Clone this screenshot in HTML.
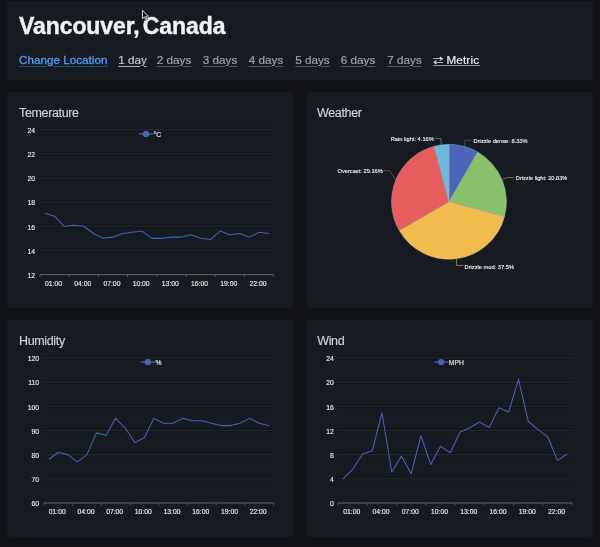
<!DOCTYPE html>
<html><head><meta charset="utf-8">
<style>
html,body{margin:0;padding:0;}
body{width:600px;height:547px;background:#121319;position:relative;overflow:hidden;font-family:"Liberation Sans",Arial,Helvetica,sans-serif;}
.card{position:absolute;background:#161a21;border-radius:3px;}
.hdr{left:7px;top:0;width:585.75px;height:80px;box-sizing:border-box;border-top:1px solid #0f1219;border-top-left-radius:0;border-top-right-radius:0;}
h1{position:absolute;left:19px;top:13px;margin:0;font-size:23px;line-height:27px;font-weight:bold;color:#f0f2f4;-webkit-text-stroke:0.4px #f0f2f4;white-space:nowrap;word-spacing:-3.2px;letter-spacing:-0.08px;}
.n{position:absolute;top:52.5px;font-size:11.7px;line-height:14px;white-space:nowrap;color:#9ba1a8;text-decoration:underline;text-decoration-color:#55595f;text-underline-offset:2px;text-decoration-thickness:1px;-webkit-text-stroke:0.2px currentColor;}
.n.loc{color:#4f9ef8;text-decoration-color:#2a4a78;-webkit-text-stroke:0.3px #4f9ef8;}
.n.cur{color:#c3c7cc;text-decoration-color:#a8acb2;}
.n.met{color:#e8ebee;text-decoration:none;}
.arr{font-family:"Noto Sans CJK JP",sans-serif;font-size:6.4px;display:inline-block;width:10.4px;font-weight:normal;transform:translateY(-1.4px) scale(1.6,1);transform-origin:0 50%;}
.ul{position:absolute;left:433px;top:65.4px;width:46.5px;height:1px;background:#8e939a;}
.mt{letter-spacing:0.15px;}
.ttl{position:absolute;font-size:12.5px;line-height:15px;letter-spacing:-0.35px;color:#ced2d8;-webkit-text-stroke:0.15px #ced2d8;white-space:nowrap;}
svg{position:absolute;left:0;top:0;}
.al{font-size:6.8px;fill:#e8e8e8;stroke:#e8e8e8;stroke-width:0.15px;font-family:"Liberation Sans",Arial,sans-serif;}
.pl{font-size:6.2px;fill:#f4f4f4;stroke:#f4f4f4;stroke-width:0.12px;font-family:"Liberation Sans",Arial,sans-serif;}
</style></head><body>
<div class="card hdr"></div>
<h1>Vancouver, Canada</h1>
<a class="n loc" style="left:19px">Change Location</a>
<a class="n cur" style="left:118.3px">1 day</a>
<a class="n " style="left:156.8px">2 days</a>
<a class="n " style="left:202.8px">3 days</a>
<a class="n " style="left:248.8px">4 days</a>
<a class="n " style="left:295.2px">5 days</a>
<a class="n " style="left:340.8px">6 days</a>
<a class="n " style="left:387.3px">7 days</a>
<a class="n met" style="left:432.8px"><span class="arr">⇄</span> <span class="mt">Metric</span></a>
<div class="ul"></div>
<div class="card" style="left:7px;top:91.7px;width:286.75px;height:216.6px"></div>
<div class="card" style="left:306px;top:91.7px;width:286.75px;height:216.6px"></div>
<div class="card" style="left:7px;top:320px;width:286.75px;height:216.7px"></div>
<div class="card" style="left:306px;top:320px;width:286.75px;height:216.7px"></div>
<div class="ttl" style="left:19px;top:106px">Temerature</div>
<div class="ttl" style="left:317px;top:106px">Weather</div>
<div class="ttl" style="left:19px;top:334px">Humidity</div>
<div class="ttl" style="left:317.2px;top:334px">Wind</div>
<svg width="600" height="547" viewBox="0 0 600 547">
<line x1="39.9" y1="128.30" x2="273.6" y2="128.30" stroke="#12161b" stroke-width="0.8"/>
<line x1="39.9" y1="130.90" x2="273.6" y2="130.90" stroke="#12161b" stroke-width="0.8"/>
<line x1="39.9" y1="129.60" x2="273.6" y2="129.60" stroke="#25282d" stroke-width="1.1"/>
<line x1="39.9" y1="152.47" x2="273.6" y2="152.47" stroke="#12161b" stroke-width="0.8"/>
<line x1="39.9" y1="155.07" x2="273.6" y2="155.07" stroke="#12161b" stroke-width="0.8"/>
<line x1="39.9" y1="153.77" x2="273.6" y2="153.77" stroke="#25282d" stroke-width="1.1"/>
<line x1="39.9" y1="176.63" x2="273.6" y2="176.63" stroke="#12161b" stroke-width="0.8"/>
<line x1="39.9" y1="179.23" x2="273.6" y2="179.23" stroke="#12161b" stroke-width="0.8"/>
<line x1="39.9" y1="177.93" x2="273.6" y2="177.93" stroke="#25282d" stroke-width="1.1"/>
<line x1="39.9" y1="200.80" x2="273.6" y2="200.80" stroke="#12161b" stroke-width="0.8"/>
<line x1="39.9" y1="203.40" x2="273.6" y2="203.40" stroke="#12161b" stroke-width="0.8"/>
<line x1="39.9" y1="202.10" x2="273.6" y2="202.10" stroke="#25282d" stroke-width="1.1"/>
<line x1="39.9" y1="224.97" x2="273.6" y2="224.97" stroke="#12161b" stroke-width="0.8"/>
<line x1="39.9" y1="227.57" x2="273.6" y2="227.57" stroke="#12161b" stroke-width="0.8"/>
<line x1="39.9" y1="226.27" x2="273.6" y2="226.27" stroke="#25282d" stroke-width="1.1"/>
<line x1="39.9" y1="249.13" x2="273.6" y2="249.13" stroke="#12161b" stroke-width="0.8"/>
<line x1="39.9" y1="251.73" x2="273.6" y2="251.73" stroke="#12161b" stroke-width="0.8"/>
<line x1="39.9" y1="250.43" x2="273.6" y2="250.43" stroke="#25282d" stroke-width="1.1"/>
<text x="35" y="132.90" text-anchor="end" class="al">24</text>
<text x="35" y="157.07" text-anchor="end" class="al">22</text>
<text x="35" y="181.23" text-anchor="end" class="al">20</text>
<text x="35" y="205.40" text-anchor="end" class="al">18</text>
<text x="35" y="229.57" text-anchor="end" class="al">16</text>
<text x="35" y="253.73" text-anchor="end" class="al">14</text>
<text x="35" y="277.90" text-anchor="end" class="al">12</text>
<line x1="39.9" y1="274.6" x2="273.6" y2="274.6" stroke="#62656f" stroke-width="1"/>
<line x1="39.90" y1="274.6" x2="39.90" y2="277.1" stroke="#62656f" stroke-width="0.8"/>
<line x1="69.11" y1="274.6" x2="69.11" y2="277.1" stroke="#62656f" stroke-width="0.8"/>
<line x1="98.33" y1="274.6" x2="98.33" y2="277.1" stroke="#62656f" stroke-width="0.8"/>
<line x1="127.54" y1="274.6" x2="127.54" y2="277.1" stroke="#62656f" stroke-width="0.8"/>
<line x1="156.75" y1="274.6" x2="156.75" y2="277.1" stroke="#62656f" stroke-width="0.8"/>
<line x1="185.96" y1="274.6" x2="185.96" y2="277.1" stroke="#62656f" stroke-width="0.8"/>
<line x1="215.18" y1="274.6" x2="215.18" y2="277.1" stroke="#62656f" stroke-width="0.8"/>
<line x1="244.39" y1="274.6" x2="244.39" y2="277.1" stroke="#62656f" stroke-width="0.8"/>
<line x1="273.60" y1="274.6" x2="273.60" y2="277.1" stroke="#62656f" stroke-width="0.8"/>
<text x="53.51" y="286.00" text-anchor="middle" class="al">01:00</text>
<text x="82.72" y="286.00" text-anchor="middle" class="al">04:00</text>
<text x="111.93" y="286.00" text-anchor="middle" class="al">07:00</text>
<text x="141.14" y="286.00" text-anchor="middle" class="al">10:00</text>
<text x="170.36" y="286.00" text-anchor="middle" class="al">13:00</text>
<text x="199.57" y="286.00" text-anchor="middle" class="al">16:00</text>
<text x="228.78" y="286.00" text-anchor="middle" class="al">19:00</text>
<text x="257.99" y="286.00" text-anchor="middle" class="al">22:00</text>
<polyline points="44.77,213.34 54.51,216.24 64.24,226.27 73.98,225.30 83.72,226.27 93.46,233.52 103.19,238.35 112.93,237.14 122.67,233.52 132.41,232.31 142.14,231.10 151.88,238.35 161.62,238.35 171.36,237.14 181.09,237.14 190.83,234.72 200.57,238.35 210.31,239.56 220.04,231.10 229.78,234.72 239.52,233.52 249.26,237.14 258.99,232.31 268.73,233.52" fill="none" stroke="#4862b6" stroke-width="1.05" stroke-linejoin="round"/>
<line x1="139.0" y1="133.9" x2="153.0" y2="133.9" stroke="#4862b6" stroke-width="1.3"/>
<circle cx="146.0" cy="133.9" r="3.2" fill="#4862b6"/>
<text x="153.6" y="136.5" class="al">°C</text>
<line x1="43.9" y1="356.60" x2="273.5" y2="356.60" stroke="#12161b" stroke-width="0.8"/>
<line x1="43.9" y1="359.20" x2="273.5" y2="359.20" stroke="#12161b" stroke-width="0.8"/>
<line x1="43.9" y1="357.90" x2="273.5" y2="357.90" stroke="#25282d" stroke-width="1.1"/>
<line x1="43.9" y1="380.78" x2="273.5" y2="380.78" stroke="#12161b" stroke-width="0.8"/>
<line x1="43.9" y1="383.38" x2="273.5" y2="383.38" stroke="#12161b" stroke-width="0.8"/>
<line x1="43.9" y1="382.08" x2="273.5" y2="382.08" stroke="#25282d" stroke-width="1.1"/>
<line x1="43.9" y1="404.97" x2="273.5" y2="404.97" stroke="#12161b" stroke-width="0.8"/>
<line x1="43.9" y1="407.57" x2="273.5" y2="407.57" stroke="#12161b" stroke-width="0.8"/>
<line x1="43.9" y1="406.27" x2="273.5" y2="406.27" stroke="#25282d" stroke-width="1.1"/>
<line x1="43.9" y1="429.15" x2="273.5" y2="429.15" stroke="#12161b" stroke-width="0.8"/>
<line x1="43.9" y1="431.75" x2="273.5" y2="431.75" stroke="#12161b" stroke-width="0.8"/>
<line x1="43.9" y1="430.45" x2="273.5" y2="430.45" stroke="#25282d" stroke-width="1.1"/>
<line x1="43.9" y1="453.33" x2="273.5" y2="453.33" stroke="#12161b" stroke-width="0.8"/>
<line x1="43.9" y1="455.93" x2="273.5" y2="455.93" stroke="#12161b" stroke-width="0.8"/>
<line x1="43.9" y1="454.63" x2="273.5" y2="454.63" stroke="#25282d" stroke-width="1.1"/>
<line x1="43.9" y1="477.52" x2="273.5" y2="477.52" stroke="#12161b" stroke-width="0.8"/>
<line x1="43.9" y1="480.12" x2="273.5" y2="480.12" stroke="#12161b" stroke-width="0.8"/>
<line x1="43.9" y1="478.82" x2="273.5" y2="478.82" stroke="#25282d" stroke-width="1.1"/>
<text x="39" y="361.20" text-anchor="end" class="al">120</text>
<text x="39" y="385.38" text-anchor="end" class="al">110</text>
<text x="39" y="409.57" text-anchor="end" class="al">100</text>
<text x="39" y="433.75" text-anchor="end" class="al">90</text>
<text x="39" y="457.93" text-anchor="end" class="al">80</text>
<text x="39" y="482.12" text-anchor="end" class="al">70</text>
<text x="39" y="506.30" text-anchor="end" class="al">60</text>
<line x1="43.9" y1="503.0" x2="273.5" y2="503.0" stroke="#62656f" stroke-width="1"/>
<line x1="43.90" y1="503.0" x2="43.90" y2="505.5" stroke="#62656f" stroke-width="0.8"/>
<line x1="72.60" y1="503.0" x2="72.60" y2="505.5" stroke="#62656f" stroke-width="0.8"/>
<line x1="101.30" y1="503.0" x2="101.30" y2="505.5" stroke="#62656f" stroke-width="0.8"/>
<line x1="130.00" y1="503.0" x2="130.00" y2="505.5" stroke="#62656f" stroke-width="0.8"/>
<line x1="158.70" y1="503.0" x2="158.70" y2="505.5" stroke="#62656f" stroke-width="0.8"/>
<line x1="187.40" y1="503.0" x2="187.40" y2="505.5" stroke="#62656f" stroke-width="0.8"/>
<line x1="216.10" y1="503.0" x2="216.10" y2="505.5" stroke="#62656f" stroke-width="0.8"/>
<line x1="244.80" y1="503.0" x2="244.80" y2="505.5" stroke="#62656f" stroke-width="0.8"/>
<line x1="273.50" y1="503.0" x2="273.50" y2="505.5" stroke="#62656f" stroke-width="0.8"/>
<text x="57.25" y="514.40" text-anchor="middle" class="al">01:00</text>
<text x="85.95" y="514.40" text-anchor="middle" class="al">04:00</text>
<text x="114.65" y="514.40" text-anchor="middle" class="al">07:00</text>
<text x="143.35" y="514.40" text-anchor="middle" class="al">10:00</text>
<text x="172.05" y="514.40" text-anchor="middle" class="al">13:00</text>
<text x="200.75" y="514.40" text-anchor="middle" class="al">16:00</text>
<text x="229.45" y="514.40" text-anchor="middle" class="al">19:00</text>
<text x="258.15" y="514.40" text-anchor="middle" class="al">22:00</text>
<polyline points="48.68,459.47 58.25,452.21 67.82,454.63 77.38,461.89 86.95,454.63 96.52,432.87 106.08,435.29 115.65,418.36 125.22,428.03 134.78,442.54 144.35,437.70 153.92,418.36 163.48,423.19 173.05,423.19 182.62,418.36 192.18,420.78 201.75,420.78 211.32,423.19 220.88,425.61 230.45,425.61 240.02,423.19 249.58,418.36 259.15,423.19 268.72,425.61" fill="none" stroke="#4862b6" stroke-width="1.05" stroke-linejoin="round"/>
<line x1="140.8" y1="362.1" x2="154.8" y2="362.1" stroke="#4862b6" stroke-width="1.3"/>
<circle cx="147.8" cy="362.1" r="3.2" fill="#4862b6"/>
<text x="155.4" y="364.70000000000005" class="al">%</text>
<line x1="338.1" y1="356.60" x2="572.1" y2="356.60" stroke="#12161b" stroke-width="0.8"/>
<line x1="338.1" y1="359.20" x2="572.1" y2="359.20" stroke="#12161b" stroke-width="0.8"/>
<line x1="338.1" y1="357.90" x2="572.1" y2="357.90" stroke="#25282d" stroke-width="1.1"/>
<line x1="338.1" y1="380.78" x2="572.1" y2="380.78" stroke="#12161b" stroke-width="0.8"/>
<line x1="338.1" y1="383.38" x2="572.1" y2="383.38" stroke="#12161b" stroke-width="0.8"/>
<line x1="338.1" y1="382.08" x2="572.1" y2="382.08" stroke="#25282d" stroke-width="1.1"/>
<line x1="338.1" y1="404.97" x2="572.1" y2="404.97" stroke="#12161b" stroke-width="0.8"/>
<line x1="338.1" y1="407.57" x2="572.1" y2="407.57" stroke="#12161b" stroke-width="0.8"/>
<line x1="338.1" y1="406.27" x2="572.1" y2="406.27" stroke="#25282d" stroke-width="1.1"/>
<line x1="338.1" y1="429.15" x2="572.1" y2="429.15" stroke="#12161b" stroke-width="0.8"/>
<line x1="338.1" y1="431.75" x2="572.1" y2="431.75" stroke="#12161b" stroke-width="0.8"/>
<line x1="338.1" y1="430.45" x2="572.1" y2="430.45" stroke="#25282d" stroke-width="1.1"/>
<line x1="338.1" y1="453.33" x2="572.1" y2="453.33" stroke="#12161b" stroke-width="0.8"/>
<line x1="338.1" y1="455.93" x2="572.1" y2="455.93" stroke="#12161b" stroke-width="0.8"/>
<line x1="338.1" y1="454.63" x2="572.1" y2="454.63" stroke="#25282d" stroke-width="1.1"/>
<line x1="338.1" y1="477.52" x2="572.1" y2="477.52" stroke="#12161b" stroke-width="0.8"/>
<line x1="338.1" y1="480.12" x2="572.1" y2="480.12" stroke="#12161b" stroke-width="0.8"/>
<line x1="338.1" y1="478.82" x2="572.1" y2="478.82" stroke="#25282d" stroke-width="1.1"/>
<text x="333.75" y="361.20" text-anchor="end" class="al">24</text>
<text x="333.75" y="385.38" text-anchor="end" class="al">20</text>
<text x="333.75" y="409.57" text-anchor="end" class="al">16</text>
<text x="333.75" y="433.75" text-anchor="end" class="al">12</text>
<text x="333.75" y="457.93" text-anchor="end" class="al">8</text>
<text x="333.75" y="482.12" text-anchor="end" class="al">4</text>
<text x="333.75" y="506.30" text-anchor="end" class="al">0</text>
<line x1="338.1" y1="503.0" x2="572.1" y2="503.0" stroke="#62656f" stroke-width="1"/>
<line x1="338.10" y1="503.0" x2="338.10" y2="505.5" stroke="#62656f" stroke-width="0.8"/>
<line x1="367.35" y1="503.0" x2="367.35" y2="505.5" stroke="#62656f" stroke-width="0.8"/>
<line x1="396.60" y1="503.0" x2="396.60" y2="505.5" stroke="#62656f" stroke-width="0.8"/>
<line x1="425.85" y1="503.0" x2="425.85" y2="505.5" stroke="#62656f" stroke-width="0.8"/>
<line x1="455.10" y1="503.0" x2="455.10" y2="505.5" stroke="#62656f" stroke-width="0.8"/>
<line x1="484.35" y1="503.0" x2="484.35" y2="505.5" stroke="#62656f" stroke-width="0.8"/>
<line x1="513.60" y1="503.0" x2="513.60" y2="505.5" stroke="#62656f" stroke-width="0.8"/>
<line x1="542.85" y1="503.0" x2="542.85" y2="505.5" stroke="#62656f" stroke-width="0.8"/>
<line x1="572.10" y1="503.0" x2="572.10" y2="505.5" stroke="#62656f" stroke-width="0.8"/>
<text x="351.73" y="514.40" text-anchor="middle" class="al">01:00</text>
<text x="380.98" y="514.40" text-anchor="middle" class="al">04:00</text>
<text x="410.23" y="514.40" text-anchor="middle" class="al">07:00</text>
<text x="439.48" y="514.40" text-anchor="middle" class="al">10:00</text>
<text x="468.73" y="514.40" text-anchor="middle" class="al">13:00</text>
<text x="497.98" y="514.40" text-anchor="middle" class="al">16:00</text>
<text x="527.23" y="514.40" text-anchor="middle" class="al">19:00</text>
<text x="556.48" y="514.40" text-anchor="middle" class="al">22:00</text>
<polyline points="342.98,478.82 352.73,469.26 362.48,454.33 372.23,450.82 381.98,412.74 391.73,471.98 401.48,456.14 411.23,473.68 420.98,435.71 430.73,464.49 440.48,446.23 450.23,452.82 459.98,432.20 469.73,427.79 479.48,422.05 489.23,427.43 498.98,407.66 508.73,412.01 518.48,379.06 528.23,421.26 537.98,429.60 547.73,436.80 557.48,460.38 567.23,453.97" fill="none" stroke="#4862b6" stroke-width="1.05" stroke-linejoin="round"/>
<line x1="434.2" y1="362.1" x2="448.2" y2="362.1" stroke="#4862b6" stroke-width="1.3"/>
<circle cx="441.2" cy="362.1" r="3.2" fill="#4862b6"/>
<text x="448.8" y="364.70000000000005" class="al">MPH</text>
<path d="M449.0,201.8 L449.00,144.30 A57.5,57.5 0 0 1 477.74,152.00 Z" fill="#4b66bb" stroke="#b8bcc2" stroke-width="0.35" stroke-linejoin="round"/>
<path d="M449.0,201.8 L477.74,152.00 A57.5,57.5 0 0 1 504.54,216.68 Z" fill="#87c26b" stroke="#b8bcc2" stroke-width="0.35" stroke-linejoin="round"/>
<path d="M449.0,201.8 L504.54,216.68 A57.5,57.5 0 0 1 399.19,230.53 Z" fill="#f2bc4c" stroke="#b8bcc2" stroke-width="0.35" stroke-linejoin="round"/>
<path d="M449.0,201.8 L399.19,230.53 A57.5,57.5 0 0 1 434.14,146.25 Z" fill="#e75c5c" stroke="#b8bcc2" stroke-width="0.35" stroke-linejoin="round"/>
<path d="M449.0,201.8 L434.14,146.25 A57.5,57.5 0 0 1 449.00,144.30 Z" fill="#6bbbdc" stroke="#b8bcc2" stroke-width="0.35" stroke-linejoin="round"/>
<path d="M464.5,145.6 L464.8,140.3 L471.7,140.3" fill="none" stroke="#4b66bb" stroke-width="0.8" stroke-opacity="0.7"/>
<path d="M502.7,179.4 L507.6,177.5 L514.4,177.5" fill="none" stroke="#87c26b" stroke-width="0.8" stroke-opacity="0.7"/>
<path d="M456.5,259.0 L456.6,265.4 L463.5,265.4" fill="none" stroke="#f2bc4c" stroke-width="0.8" stroke-opacity="0.7"/>
<path d="M395.1,179.6 Q390.6,170.7 388.6,170.7 L383.3,170.7" fill="none" stroke="#e75c5c" stroke-width="0.8" stroke-opacity="0.7"/>
<path d="M441.4,144.8 L440.9,138.6 L434.4,138.6" fill="none" stroke="#69b6d4" stroke-width="0.8" stroke-opacity="0.7"/>
<text x="473.6" y="142.9" text-anchor="start" textLength="54.0" lengthAdjust="spacingAndGlyphs" class="pl">Drizzle dense: 8.33%</text>
<text x="515.8" y="180.4" text-anchor="start" textLength="51.5" lengthAdjust="spacingAndGlyphs" class="pl">Drizzle light: 20.83%</text>
<text x="464.5" y="268.8" text-anchor="start" textLength="49.6" lengthAdjust="spacingAndGlyphs" class="pl">Drizzle mod: 37.5%</text>
<text x="382.8" y="172.8" text-anchor="end" textLength="45.3" lengthAdjust="spacingAndGlyphs" class="pl">Overcast: 29.16%</text>
<text x="433.8" y="141.0" text-anchor="end" textLength="43.1" lengthAdjust="spacingAndGlyphs" class="pl">Rain light: 4.16%</text>
<path d="M142.4,10.3 L142.4,18.6 L144.4,16.8 L145.7,19.7 L147.0,19.1 L145.8,16.3 L148.4,16.1 Z" fill="none" stroke="#000" stroke-opacity="0.6" stroke-width="2.2" stroke-linejoin="round"/>
<path d="M142.4,10.3 L142.4,18.6 L144.4,16.8 L145.7,19.7 L147.0,19.1 L145.8,16.3 L148.4,16.1 Z" fill="#000" stroke="#f2f2f2" stroke-width="0.9" stroke-linejoin="round"/>
</svg>
</body></html>
